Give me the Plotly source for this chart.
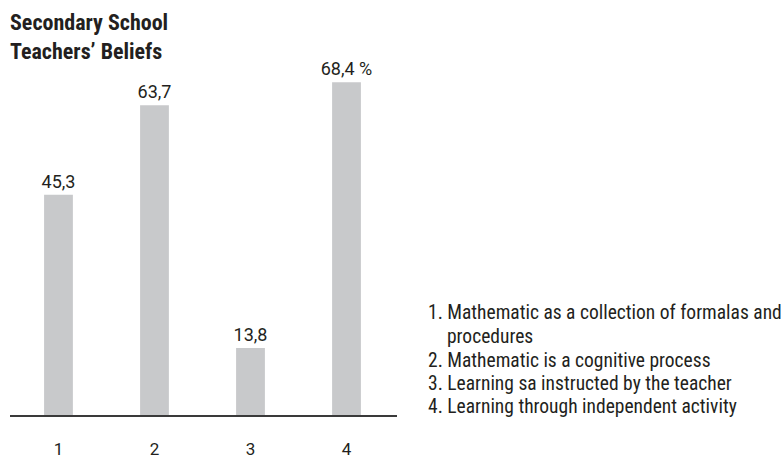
import plotly.graph_objects as go

categories = ["1", "2", "3", "4"]
values = [45.3, 63.7, 13.8, 68.4]
value_labels = ["45,3", "63,7", "13,8", "68,4 %"]
legend_items = [
    "1. Mathematic as a collection of formalas and",
    "procedures",
    "2. Mathematic is a cognitive process",
    "3. Learning sa instructed by the teacher",
    "4. Learning through independent activity",
]
title_lines = ["Secondary School", "Teachers’ Beliefs"]

FONT = "Roboto Condensed, Liberation Sans Narrow, Arial Narrow, Roboto, sans-serif"
NUMFONT = "Roboto, Liberation Sans, sans-serif"
TXT = "#231f20"

W, H = 783, 469
BASE = 434
L = 10
PW = 387
R = W - L - PW
T = 60
B = H - BASE
PH = H - T - B

def px_x(px):
    return (px - L) / PW

def px_y(py):
    return (BASE - py) / PH

fig = go.Figure()
fig.add_trace(go.Bar(
    x=[1, 2, 3, 4],
    y=values,
    width=0.30,
    marker=dict(color="#c8c9cb", line=dict(width=0)),
    text=value_labels,
    textposition="outside",
    constraintext="none",
    textfont=dict(family=NUMFONT, size=18, color=TXT),
    cliponaxis=False,
    hoverinfo="skip",
))

annotations = [
    dict(
        text="<b>" + "<br>".join(title_lines) + "</b>",
        xref="paper", yref="paper", x=px_x(8), y=px_y(5),
        xanchor="left", yanchor="top", align="left", showarrow=False,
        font=dict(family=FONT, size=22, color=TXT),
    )
]
legend_x = [426, 445, 426, 426, 426]
legend_y = [326, 351, 377, 401, 425]
for t, lx, ly in zip(legend_items, legend_x, legend_y):
    annotations.append(dict(
        text=t, xref="paper", yref="paper", x=px_x(lx), y=px_y(ly),
        xanchor="left", yanchor="middle", align="left", showarrow=False,
        font=dict(family=FONT, size=19.5, color=TXT),
    ))

fig.update_layout(
    width=W, height=H,
    margin=dict(l=L, r=R, t=T, b=B, pad=0),
    paper_bgcolor="white", plot_bgcolor="white",
    showlegend=False,
    annotations=annotations,
    xaxis=dict(
        range=[0.495, 4.526],
        tickmode="array", tickvals=[1, 2, 3, 4], ticktext=categories,
        showline=True, linecolor="#3a3a3a", linewidth=1.5,
        ticks="", showgrid=False, zeroline=False,
        tickfont=dict(family=NUMFONT, size=17, color=TXT),
        ticklabelstandoff=18,
        fixedrange=True,
    ),
    yaxis=dict(
        range=[0, 73.0], visible=False, showgrid=False, zeroline=False,
        fixedrange=True,
    ),
)

fig.write_html(
    "out.html",
    config={"displayModeBar": False},
    post_script="document.body.style.margin='0';document.body.style.overflow='hidden';",
)
